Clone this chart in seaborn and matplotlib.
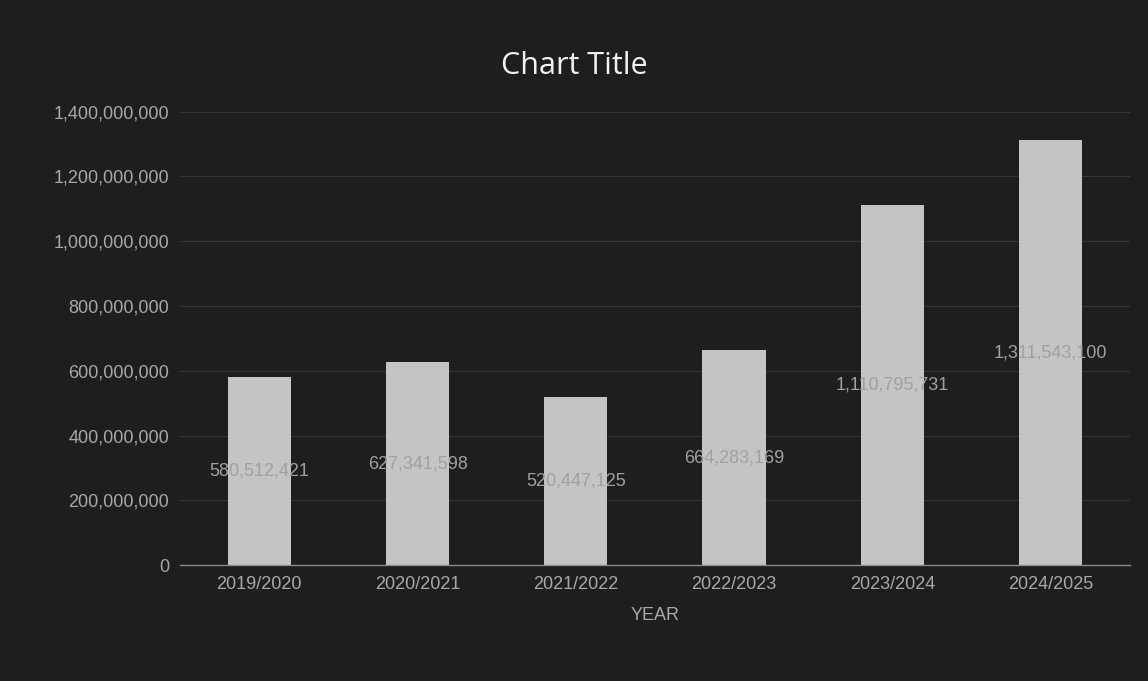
import matplotlib
matplotlib.use("Agg")
import matplotlib.pyplot as plt
import seaborn as sns
import pandas as pd
from matplotlib.ticker import FuncFormatter

years = ["2019/2020", "2020/2021", "2021/2022", "2022/2023", "2023/2024", "2024/2025"]
values = [580512421, 627341598, 520447125, 664283169, 1110795731, 1311543100]

df = pd.DataFrame({"YEAR": years, "value": values})

sns.set_theme(style="dark")
plt.rcParams['font.family'] = ['Liberation Sans', 'DejaVu Sans']

bg = "#1e1e1e"
fig = plt.figure(figsize=(11.48, 6.81), dpi=100, facecolor=bg)
ax = fig.add_axes([0.157, 0.170, 0.827, 0.666], facecolor=bg)

sns.barplot(data=df, x="YEAR", y="value", color="#c4c4c4", width=0.4,
            saturation=1, linewidth=0, edgecolor="none", ax=ax, zorder=2)

ax.set_ylim(0, 1400000000)
ax.set_yticks(range(0, 1400000001, 200000000))
ax.yaxis.set_major_formatter(FuncFormatter(lambda v, p: f"{int(v):,}"))
ax.grid(axis="y", color="#363636", linewidth=0.8, zorder=0)
ax.set_axisbelow(True)

for s in ["top", "right", "left"]:
    ax.spines[s].set_visible(False)
ax.spines["bottom"].set_color("#8a8a8a")
ax.spines["bottom"].set_linewidth(1.0)

ax.tick_params(axis="both", colors="#a8a8a8", labelsize=13, length=0, pad=8)
ax.set_xlabel("YEAR", color="#a8a8a8", fontsize=13, labelpad=10)
ax.set_ylabel("")

for c in ax.containers:
    ax.bar_label(c, labels=[f"{v:,}" for v in values], label_type="center",
                 color="#a0a0a0", fontsize=13, zorder=3)

fig.suptitle("Chart Title", color="#f2f2f2", fontsize=22, y=0.925,
             fontfamily=["Open Sans", "DejaVu Sans"])

fig.savefig("out.png", dpi=100, facecolor=bg)
